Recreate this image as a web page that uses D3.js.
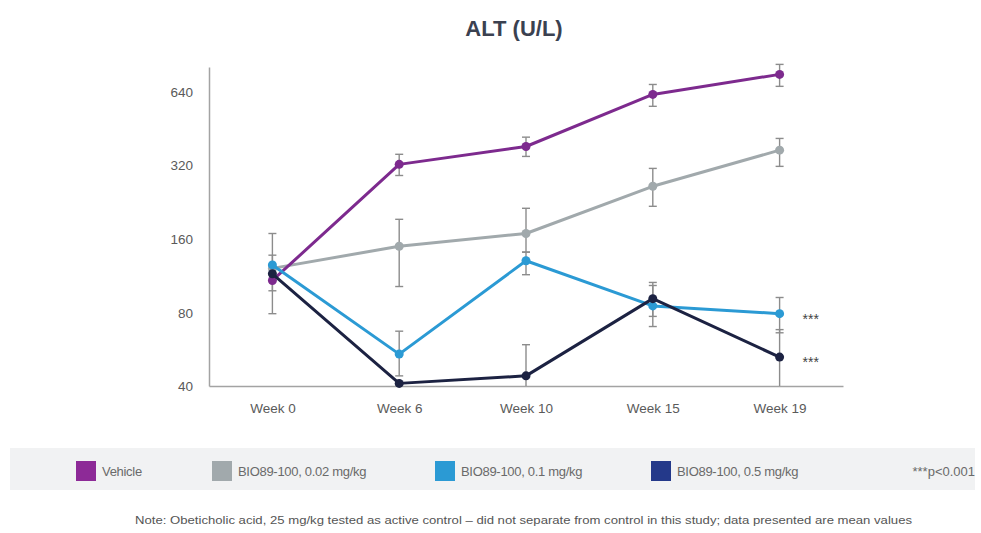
<!DOCTYPE html>
<html>
<head>
<meta charset="utf-8">
<script src="https://cdn.jsdelivr.net/npm/d3@7"></script>
<style>
  body { margin: 0; background: #fff; }
  svg { font-family: "Liberation Sans", Arial, sans-serif; }
  .axis path { stroke: #a3a3a3; stroke-width: 1.5; }
  .axis text { fill: #5a5a5a; font-size: 13.5px; }
</style>
</head>
<body>
<svg id="chart" width="981" height="533"></svg>
<script>
// ---- data ----
const weeks = ['Week 0', 'Week 6', 'Week 10', 'Week 15', 'Week 19'];
const yTicks = [40, 80, 160, 320, 640];

const vehicle      = [108, 322, 381, 622, 751];
const vehicleLow   = [98, 290, 347, 556, 671];
const vehicleHigh  = [137, 354, 416, 683, 825];

const dose002      = [121, 149, 168, 262, 368];
const dose002Low   = [79, 102, 141, 217, 316];
const dose002High  = [168, 192, 213, 310, 411];

const dose01       = [125, 54, 130, 85, 79];
const dose01Low    = [125, 44, 114, 70, 66];
const dose01High   = [125, 67, 141, 103, 92];

const dose05       = [115, 41, 44, 91, 52.5];
const dose05Low    = [115, 41, 40, 77, 40];
const dose05High   = [115, 41, 59, 106, 68];

const seriesNames  = ['Vehicle', 'BIO89-100, 0.02 mg/kg', 'BIO89-100, 0.1 mg/kg', 'BIO89-100, 0.5 mg/kg'];
const lineColors   = ['#7d2a8e', '#a1a9ac', '#2b9ad4', '#1c2242'];
const legendColors = ['#8d2a97', '#a1a9ac', '#2b9ad4', '#24398a'];
const sigStars     = [null, null, '***', '***'];

const series = [
  {name: seriesNames[0], v: vehicle, lo: vehicleLow, hi: vehicleHigh},
  {name: seriesNames[1], v: dose002, lo: dose002Low, hi: dose002High},
  {name: seriesNames[2], v: dose01,  lo: dose01Low,  hi: dose01High},
  {name: seriesNames[3], v: dose05,  lo: dose05Low,  hi: dose05High}
];

// ---- layout ----
const margin = {top: 67, left: 209};
const width = 634, height = 319;

const svg = d3.select('#chart');

svg.append('text')
    .attr('x', 514).attr('y', 36)
    .attr('text-anchor', 'middle')
    .style('font-size', '22px').style('font-weight', 'bold')
    .style('fill', '#3b4150')
    .text('ALT (U/L)');

const chart = svg.append('g')
    .attr('transform', `translate(${margin.left},${margin.top})`);

const x = d3.scalePoint().domain(weeks).range([0, width]).padding(0.5);
const y = d3.scaleLog().base(2).domain([40, 805]).range([height, 0]);

// axes
chart.append('g')
    .attr('class', 'axis')
    .call(d3.axisLeft(y).tickValues(yTicks).tickFormat(d3.format('d')).tickSize(0).tickPadding(16))
    .call(g => g.selectAll('text').attr('dy', '0.35em'));

chart.append('g')
    .attr('class', 'axis')
    .attr('transform', `translate(0,${height})`)
    .call(d3.axisBottom(x).tickSize(0).tickPadding(17));

// error bars (drawn first, under the lines)
const cap = 4;
series.forEach(s => {
  const g = chart.append('g').attr('stroke', '#8c8c8c').attr('stroke-width', 1.4);
  weeks.forEach((w, i) => {
    if (s.lo[i] === s.hi[i]) return;
    const cx = x(w), y0 = y(s.lo[i]), y1 = y(s.hi[i]);
    g.append('line').attr('x1', cx).attr('x2', cx).attr('y1', y0).attr('y2', y1);
    g.append('line').attr('x1', cx - cap).attr('x2', cx + cap).attr('y1', y1).attr('y2', y1);
    if (s.lo[i] > 40) {
      g.append('line').attr('x1', cx - cap).attr('x2', cx + cap).attr('y1', y0).attr('y2', y0);
    }
  });
});

const line = d3.line().x((d, i) => x(weeks[i])).y(d => y(d));

// draw from bottom-most layer to top
[1, 0, 2, 3].forEach(k => {
  const s = series[k];
  chart.append('path')
      .datum(s.v)
      .attr('fill', 'none')
      .attr('stroke', lineColors[k])
      .attr('stroke-width', 3)
      .attr('stroke-linejoin', 'round')
      .attr('d', line);
  chart.selectAll(null)
      .data(s.v)
      .join('circle')
      .attr('cx', (d, i) => x(weeks[i]))
      .attr('cy', d => y(d))
      .attr('r', 4.5)
      .attr('fill', lineColors[k]);
});

// significance markers
series.forEach((s, k) => {
  if (!sigStars[k]) return;
  chart.append('text')
      .attr('x', x(weeks[weeks.length - 1]) + 23)
      .attr('y', y(s.v[s.v.length - 1]) + 10)
      .style('font-size', '14px').style('fill', '#444')
      .text(sigStars[k]);
});

// legend band
const legend = svg.append('g');
legend.append('rect')
    .attr('x', 10).attr('y', 448).attr('width', 965).attr('height', 42)
    .attr('fill', '#f1f2f3');

const legendX = [76, 212, 435, 651];
seriesNames.forEach((n, k) => {
  legend.append('rect')
      .attr('x', legendX[k]).attr('y', 461).attr('width', 20).attr('height', 20)
      .attr('fill', legendColors[k]);
  legend.append('text')
      .attr('x', legendX[k] + 26).attr('y', 476)
      .style('font-size', '13px').style('fill', '#6a6a6a')
      .style('letter-spacing', '-0.3px')
      .text(n);
});
legend.append('text')
    .attr('x', 975).attr('y', 476)
    .attr('text-anchor', 'end')
    .style('font-size', '13px').style('fill', '#6a6a6a')
    .text('***p<0.001');

// footnote
svg.append('text')
    .attr('x', 135).attr('y', 524)
    .attr('textLength', 777).attr('lengthAdjust', 'spacingAndGlyphs')
    .style('font-size', '11px').style('fill', '#555')
    .text('Note: Obeticholic acid, 25 mg/kg tested as active control \u2013 did not separate from control in this study; data presented are mean values');
</script>
</body>
</html>
